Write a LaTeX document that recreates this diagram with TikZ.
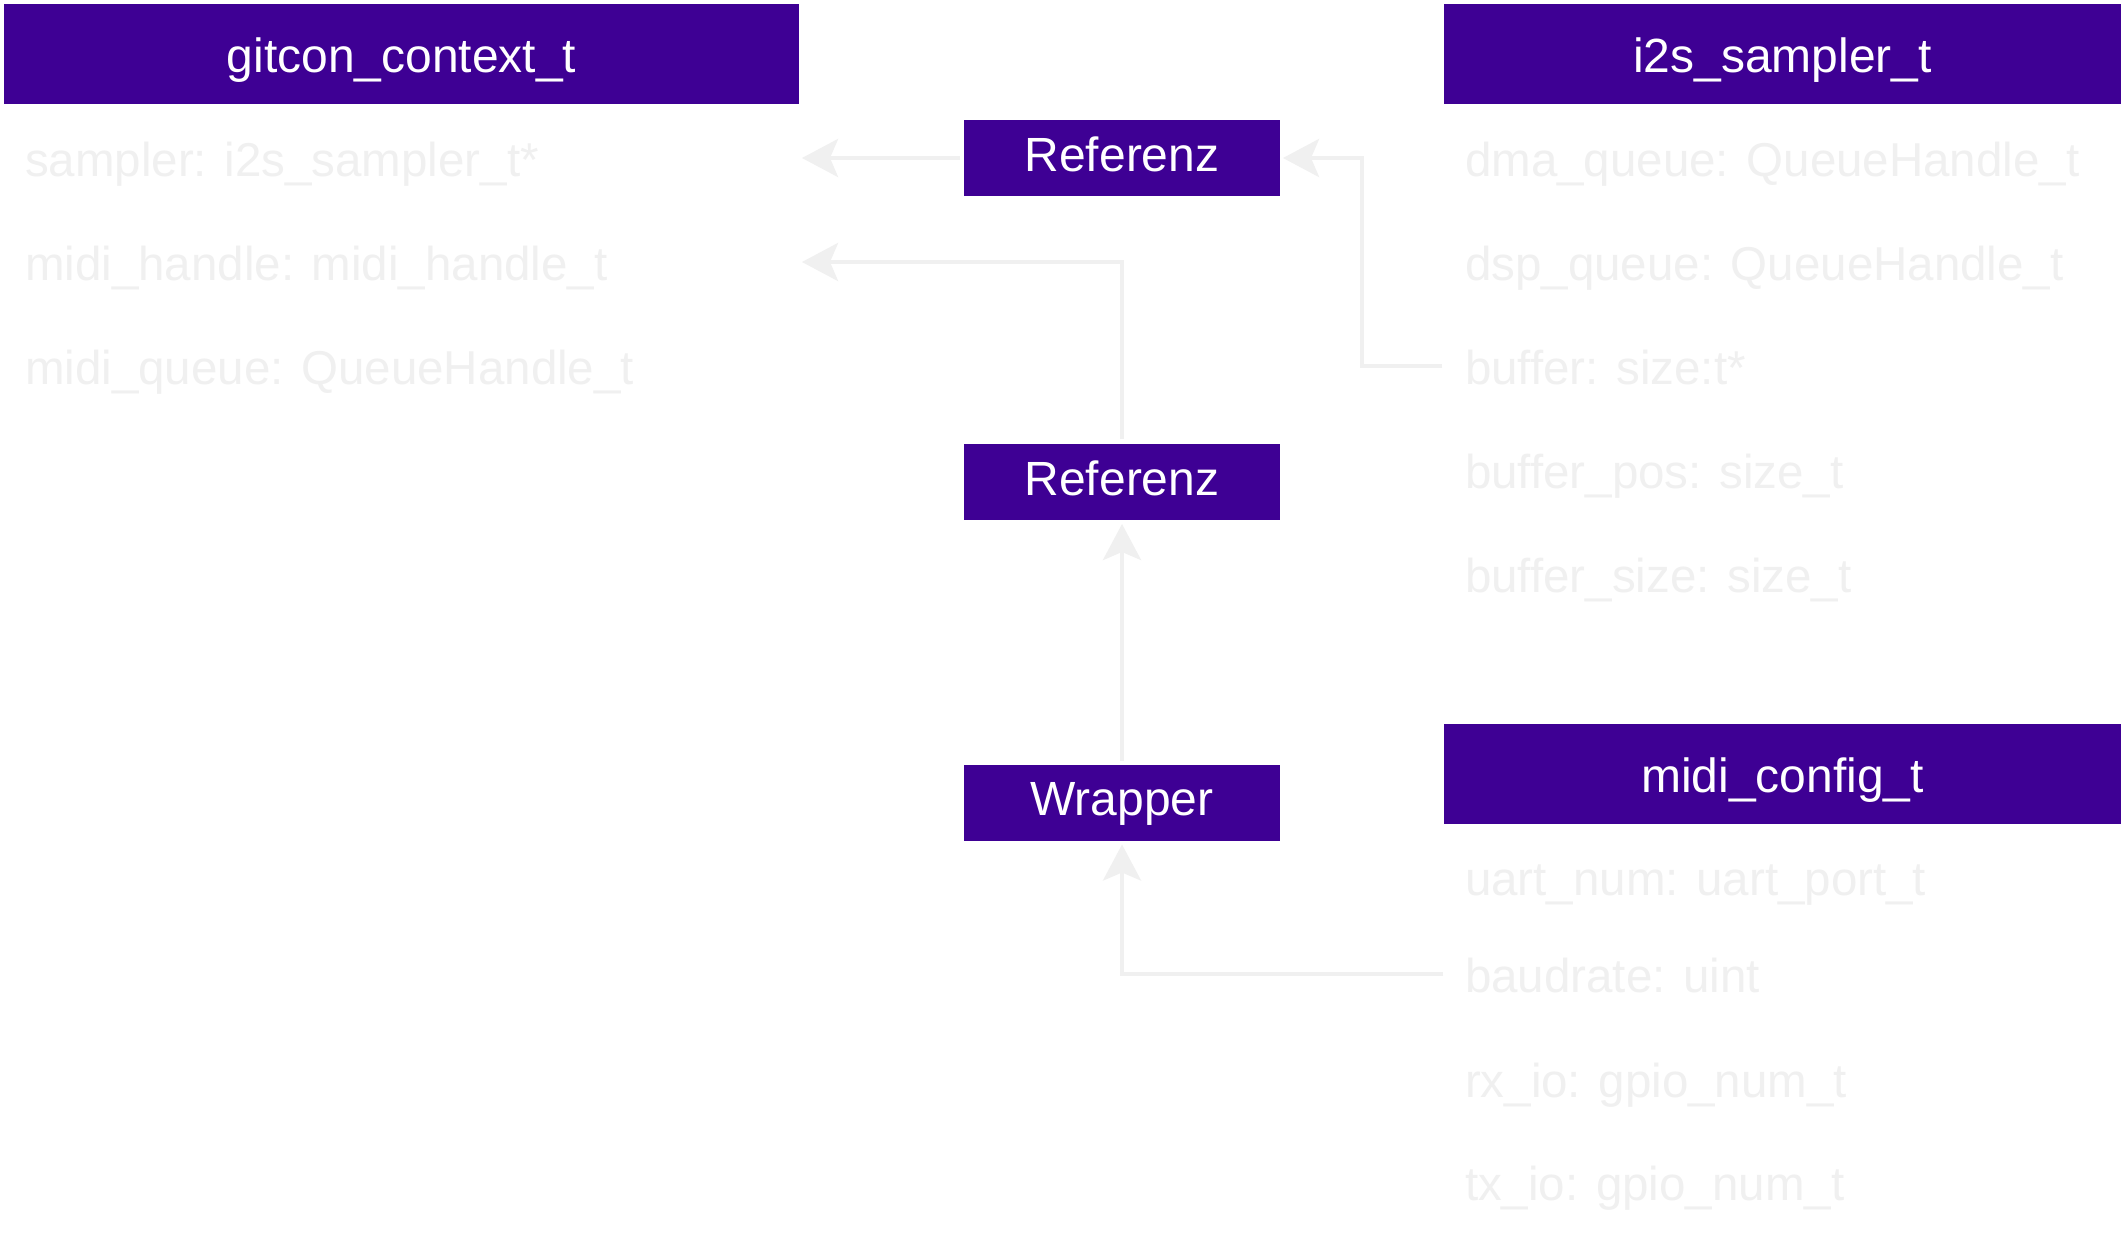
\documentclass[tikz,border=0pt]{standalone}
\usepackage{fontspec}
\setmainfont{Liberation Sans}
\usetikzlibrary{arrows.meta}
\definecolor{hdrpurple}{RGB}{62,0,148}
\definecolor{fieldgray}{RGB}{240,240,240}
\begin{document}
\begin{tikzpicture}[x=1pt,y=-1pt,
  bigfont/.style={font=\fontsize{48}{56}\selectfont},
  fieldfont/.style={font=\fontsize{47.5}{56}\selectfont},
  hdr/.style={bigfont, fill=hdrpurple, text=white, inner sep=0pt, outer sep=0pt, text height=37pt, text depth=0pt},
  refbox/.style={bigfont, fill=hdrpurple, text=white, inner sep=0pt, outer sep=0pt, minimum width=316pt, minimum height=76pt, text height=34pt, text depth=8pt},
  field/.style={fieldfont, anchor=west, text=fieldgray, inner sep=0pt, outer sep=0pt, text height=36pt, text depth=0pt},
  conn/.style={draw=fieldgray, line width=4pt, -{Stealth[length=36pt,width=38pt,inset=8pt]}}
]
\useasboundingbox[fill=white] (0,0) rectangle (2124,1248);
% headers
\node[hdr, minimum width=795pt, minimum height=100pt] (g) at (401.5,54) {gitcon\_context\_t};
\node[hdr, minimum width=677pt, minimum height=100pt] (i) at (1782.5,54) {i2s\_sampler\_t};
\node[hdr, minimum width=677pt, minimum height=100pt] (m) at (1782.5,774) {midi\_config\_t};
% middle boxes
\node[refbox] (r1) at (1122,158) {Referenz};
\node[refbox] (r2) at (1122,482) {Referenz};
\node[refbox] (w) at (1122,802.5) {Wrapper};
% fields
\node[field] (g1) at (25,158) {sampler: i2s\_sampler\_t*};
\node[field] (g2) at (25,262) {midi\_handle: midi\_handle\_t};
\node[field] (g3) at (25,366) {midi\_queue: QueueHandle\_t};
\node[field] (i1) at (1465,158) {dma\_queue: QueueHandle\_t};
\node[field] (i2) at (1465,262) {dsp\_queue: QueueHandle\_t};
\node[field] (i3) at (1465,366) {buffer: size:t*};
\node[field] (i4) at (1465,470) {buffer\_pos: size\_t};
\node[field] (i5) at (1465,574) {buffer\_size: size\_t};
\node[field] (m1) at (1465,877) {uart\_num: uart\_port\_t};
\node[field] (m2) at (1465,974) {baudrate: uint};
\node[field] (m3) at (1465,1079) {rx\_io: gpio\_num\_t};
\node[field] (m4) at (1465,1182) {tx\_io: gpio\_num\_t};
% connectors
\draw[conn, shorten <=4pt] (r1.west) -- ([xshift=3pt]r1.west -| g.east);
\draw[conn, shorten <=5pt] (r2.north) |- ([xshift=3pt]g2.west -| g.east);
\draw[conn] ([xshift=-2pt]i3.west -| i.west) -- ++(-80,0) |- ([xshift=3pt]r1.east);
\draw[conn, shorten <=4pt, shorten >=4pt] (w.north) -- (r2.south);
\draw[conn, shorten >=4pt] ([xshift=-1pt]m2.west -| m.west) -| (w.south);
\end{tikzpicture}
\end{document}
